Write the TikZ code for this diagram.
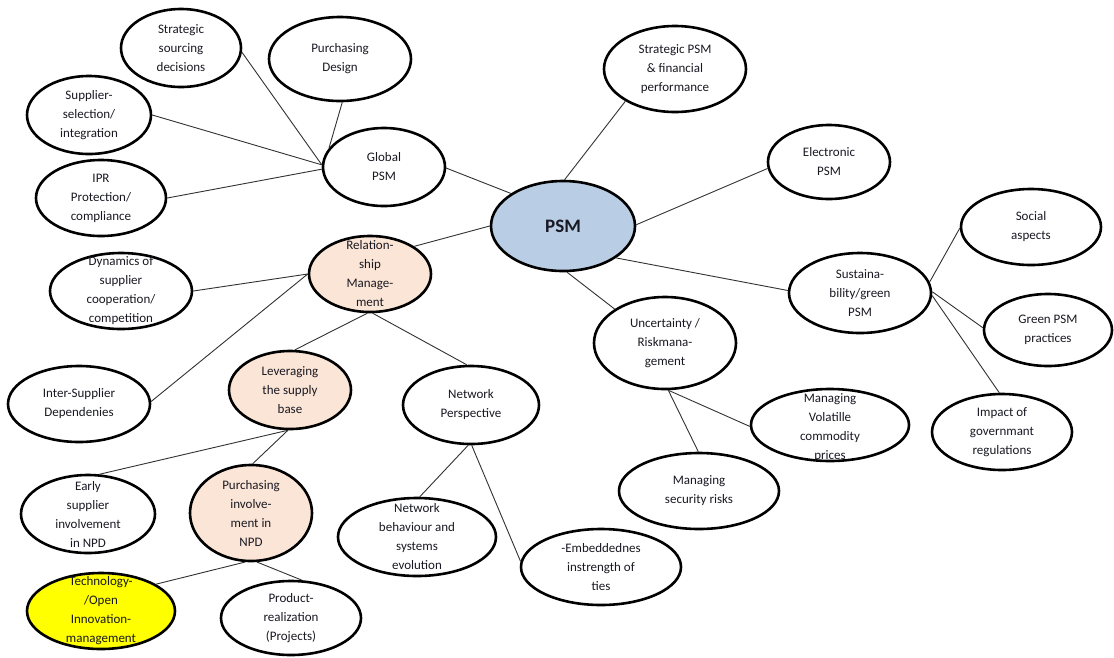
\documentclass[tikz,border=0pt]{standalone}
\usepackage{fontspec}
\setmainfont{Carlito}
\usetikzlibrary{shapes.geometric}
\definecolor{psmblue}{RGB}{185,205,229}
\definecolor{peach}{RGB}{251,229,214}
\definecolor{hiyellow}{RGB}{255,255,0}
\definecolor{txt}{RGB}{25,25,35}
\definecolor{conn}{RGB}{50,50,50}
\tikzset{
  bub/.style={ellipse, draw=black, line width=2.6pt, inner sep=0pt, fill=white},
  lbl/.style={align=center, inner sep=0pt, text=txt, font=\fontsize{13}{19}\selectfont},
  link/.style={draw=conn, line width=0.9pt}
}
\begin{document}
\begin{tikzpicture}[x=1pt,y=-1pt]
\useasboundingbox (0,0) rectangle (1114,657);
\fill[white] (0,0) rectangle (1114,657);

% ---------- ellipses ----------
\node[bub, minimum width=120pt, minimum height=78pt] (ssd) at (181,48) {};
\node[bub, minimum width=142pt, minimum height=84pt] (pd) at (340,59) {};
\node[bub, minimum width=124pt, minimum height=78pt] (ssi) at (89,115) {};
\node[bub, minimum width=130pt, minimum height=76pt] (ipr) at (101,198) {};
\node[bub, minimum width=122pt, minimum height=78pt] (glob) at (384,167) {};
\node[bub, minimum width=142pt, minimum height=86pt] (spf) at (675,69) {};
\node[bub, fill=psmblue, minimum width=144pt, minimum height=90pt] (psm) at (563,226) {};
\node[bub, minimum width=122pt, minimum height=74pt] (epsm) at (829,162) {};
\node[bub, minimum width=140pt, minimum height=76pt] (soc) at (1031,227) {};
\node[bub, minimum width=142pt, minimum height=80pt] (sus) at (860,293) {};
\node[bub, minimum width=128pt, minimum height=72pt] (gpp) at (1048,330) {};
\node[bub, minimum width=140pt, minimum height=76pt] (imp) at (1002,432) {};
\node[bub, minimum width=158pt, minimum height=72pt] (mvc) at (830,425) {};
\node[bub, minimum width=142pt, minimum height=92pt] (unc) at (665,343) {};
\node[bub, minimum width=160pt, minimum height=76pt] (msr) at (699,491) {};
\node[bub, minimum width=136pt, minimum height=78pt] (np) at (471,405) {};
\node[bub, minimum width=158pt, minimum height=78pt] (nbs) at (417,537) {};
\node[bub, minimum width=160pt, minimum height=76pt] (emb) at (601,567) {};
\node[bub, fill=peach, minimum width=122pt, minimum height=76pt] (rel) at (370,274) {};
\node[bub, minimum width=142pt, minimum height=76pt] (dyn) at (121,291) {};
\node[bub, minimum width=142pt, minimum height=76pt] (isd) at (79,404) {};
\node[bub, fill=peach, minimum width=122pt, minimum height=78pt] (lev) at (290,390) {};
\node[bub, minimum width=134pt, minimum height=78pt] (esi) at (88,514) {};
\node[bub, fill=peach, minimum width=122pt, minimum height=96pt] (pin) at (251,513) {};
\node[bub, fill=hiyellow, minimum width=148pt, minimum height=76pt] (tech) at (101,611) {};
\node[bub, minimum width=140pt, minimum height=74pt] (prod) at (291,618) {};

% ---------- connectors ----------
\draw[link] (ssd.-4) -- (glob.178);
\draw[link] (ssi.0) -- (glob.178);
\draw[link] (ipr.0) -- (glob.182);
\draw[link] (pd.-87) -- (glob.161);
\draw[link] (glob.-1) -- (psm.148);
\draw[link] (spf.213) -- (psm.88);
\draw[link] (epsm.186) -- (psm.1);
\draw[link] (psm.-31) -- (sus.178);
\draw[link] (psm.-85) -- (unc.146);
\draw[link] (psm.180) -- (rel.32);
\draw[link] (sus.9) -- (soc.181);
\draw[link] (sus.1) -- (gpp.178);
\draw[link] (sus.-2) -- (imp.94);
\draw[link] (unc.-86) -- (mvc.181);
\draw[link] (unc.-86) -- (msr.91);
\draw[link] (rel.180) -- (dyn.0);
\draw[link] (rel.180) -- (isd.2);
\draw[link] (rel.-94) -- (lev.83);
\draw[link] (rel.-86) -- (np.96);
\draw[link] (lev.-93) -- (esi.74);
\draw[link] (lev.-93) -- (pin.88);
\draw[link] (pin.-97) -- (tech.26);
\draw[link] (pin.-83) -- (prod.74);
\draw[link] (np.-94) -- (nbs.86);
\draw[link] (np.-89) -- (emb.176);

% ---------- labels ----------
\node[lbl] at (ssd) {Strategic\\sourcing\\decisions};
\node[lbl] at (pd) {Purchasing\\Design};
\node[lbl] at (ssi) {Supplier-\\selection/\\integration};
\node[lbl] at (ipr) {IPR\\Protection/\\compliance};
\node[lbl] at (glob) {Global\\PSM};
\node[lbl] at (spf) {Strategic PSM\\\& financial\\performance};
\node[lbl, font=\bfseries\fontsize{19}{22}\selectfont] at (psm) {PSM};
\node[lbl] at (epsm) {Electronic\\PSM};
\node[lbl] at (soc) {Social\\aspects};
\node[lbl] at (sus) {Sustaina-\\bility/green\\PSM};
\node[lbl] at (gpp) {Green PSM\\practices};
\node[lbl] at (imp) {Impact of\\governmant\\regulations};
\node[lbl] at ([yshift=-3pt]mvc.center) {Managing\\Volatille\\commodity\\prices};
\node[lbl] at (unc) {Uncertainty /\\Riskmana-\\gement};
\node[lbl] at (msr) {Managing\\security risks};
\node[lbl] at (np) {Network\\Perspective};
\node[lbl] at (nbs) {Network\\behaviour and\\systems\\evolution};
\node[lbl] at (emb) {-Embeddednes\\instrength of\\ties};
\node[lbl] at (rel) {Relation-\\ship\\Manage-\\ment};
\node[lbl] at (dyn) {Dynamics of\\supplier\\cooperation/\\competition};
\node[lbl] at (isd) {Inter-Supplier\\Dependenies};
\node[lbl] at (lev) {Leveraging\\the supply\\base};
\node[lbl] at (esi) {Early\\supplier\\involvement\\in NPD};
\node[lbl] at (pin) {Purchasing\\involve-\\ment in\\NPD};
\node[lbl] at (tech) {Technology-\\/Open\\Innovation-\\management};
\node[lbl] at (prod) {Product-\\realization\\(Projects)};
\end{tikzpicture}
\end{document}
